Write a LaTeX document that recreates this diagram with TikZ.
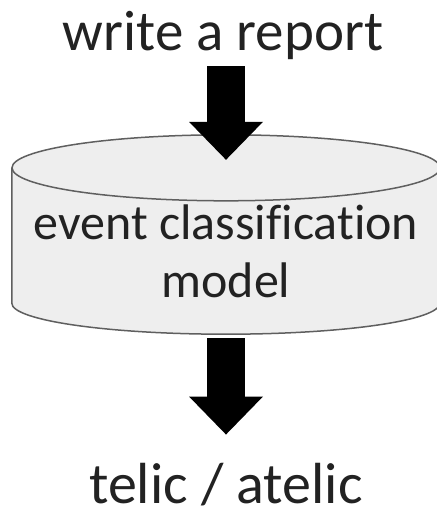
\documentclass[tikz,border=0pt]{standalone}
\usepackage{fontspec}
\setmainfont{Carlito}[Ligatures=NoCommon]
\usetikzlibrary{positioning,arrows.meta}
\definecolor{cylfill}{HTML}{EEEEEE}
\definecolor{cyledge}{HTML}{5F5F5F}
\definecolor{inktext}{HTML}{222222}

\begin{document}
\begin{tikzpicture}[
    x=1pt, y=-1pt,
    label/.style = {inner sep=0pt, text=inktext, font=\fontsize{57}{68}\selectfont},
    body/.style = {fill=cylfill, minimum width=428pt, minimum height=135pt, inner sep=0pt,
      align=center, text=inktext, font=\fontsize{50}{58}\selectfont},
    rim/.style = {draw=cyledge, line width=1.5pt},
    flow/.style = {line width=38pt, -{Triangle[length=38pt, width=74pt, line width=0pt 0]}}
  ]
  \useasboundingbox (0,0) rectangle (437,515);

  \node[label, anchor=base] (task) at (223,50) {write a report};
  \node[body] (model) at (226,235.5) {\rule{0pt}{67pt}event classification\\model};
  \node[label, anchor=base, font=\fontsize{58}{69}\selectfont] (result) at (226,503) {telic / atelic};

  % cylinder round the model node
  \fill[cylfill] (model.south west) arc[start angle=180, end angle=360, x radius=214pt, y radius=31pt] -- cycle;
  \draw[rim] (model.north west) -- (model.south west)
    arc[start angle=180, end angle=360, x radius=214pt, y radius=31pt] -- (model.north east);
  \filldraw[rim, fill=cylfill] (model.north) ellipse[x radius=214pt, y radius=33pt];

  \draw[flow] ([yshift=-7pt]task.south -| model.center) -- ([yshift=8pt]model.north);
  \draw[flow] ([yshift=-35pt]model.south) -- ([yshift=28pt]result.north -| model.center);
\end{tikzpicture}
\end{document}
